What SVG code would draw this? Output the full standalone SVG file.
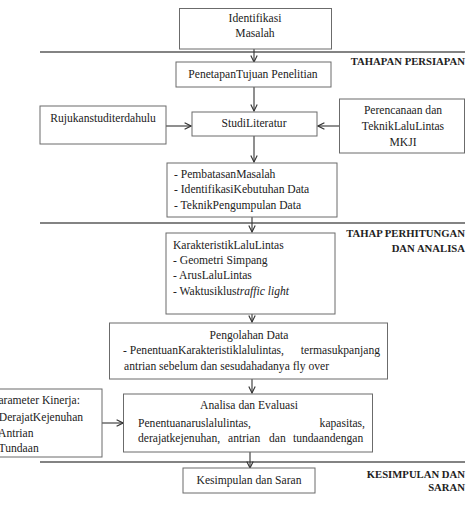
<svg xmlns="http://www.w3.org/2000/svg" width="470" height="517" viewBox="0 0 470 517">
<style>
.box{fill:#fff;stroke:#6b6b6b;stroke-width:1}
.sep{stroke:#5a5a5a;stroke-width:1.3;fill:none}
.con{stroke:#333;stroke-width:1.1;fill:none}
text{font-size:11.6px;fill:#222}
.c{text-anchor:middle}
.h{font-weight:bold;font-size:10.7px;text-anchor:end;fill:#222}
</style>
<defs>
<marker id="ar" viewBox="0 0 10 10" refX="9" refY="5" markerWidth="8" markerHeight="8" markerUnits="userSpaceOnUse" orient="auto">
<path d="M1,1 L9,5 L1,9" fill="none" stroke="#333" stroke-width="1.4"/>
</marker>
</defs>
<rect width="470" height="517" fill="#fff"/>
<g font-family="Liberation Serif, Times New Roman, DejaVu Serif, serif">
<g id="separators">
<line class="sep" x1="40" y1="52" x2="465" y2="52"/>
<line class="sep" x1="40" y1="223" x2="465" y2="223"/>
<line class="sep" x1="40" y1="462" x2="465" y2="462"/>
<text class="h" x="465" y="65">TAHAPAN PERSIAPAN</text>
<text class="h" x="465" y="237">TAHAP PERHITUNGAN</text>
<text class="h" x="465" y="252">DAN ANALISA</text>
<text class="h" x="465" y="478">KESIMPULAN DAN</text>
<text class="h" x="465" y="491">SARAN</text>
</g>
<g id="connectors">
<line class="con" x1="254" y1="49" x2="254" y2="62" marker-end="url(#ar)"/>
<line class="con" x1="254" y1="87" x2="254" y2="111" marker-end="url(#ar)"/>
<line class="con" x1="166" y1="126" x2="191" y2="126" marker-end="url(#ar)"/>
<line class="con" x1="339" y1="126" x2="318" y2="126" marker-end="url(#ar)"/>
<line class="con" x1="254" y1="136" x2="254" y2="162" marker-end="url(#ar)"/>
<line class="con" x1="252" y1="217" x2="252" y2="232" marker-end="url(#ar)"/>
<line class="con" x1="252" y1="314" x2="252" y2="322" marker-end="url(#ar)"/>
<line class="con" x1="252" y1="379" x2="252" y2="393" marker-end="url(#ar)"/>
<line class="con" x1="102" y1="423" x2="123" y2="423" marker-end="url(#ar)"/>
<line class="con" x1="250" y1="452" x2="250" y2="468" marker-end="url(#ar)"/>
</g>
<g id="n-identifikasi">
<rect class="box" x="179.5" y="8.5" width="152" height="40.5"/>
<text class="c" x="255" y="22">Identifikasi</text>
<text class="c" x="255" y="37">Masalah</text>
</g>
<g id="n-penetapan">
<rect class="box" x="176" y="62" width="155" height="25"/>
<text class="c" x="253" y="78">PenetapanTujuan Penelitian</text>
</g>
<g id="n-rujukan">
<rect class="box" x="40" y="106" width="126" height="38"/>
<text class="c" x="103" y="122">Rujukanstuditerdahulu</text>
</g>
<g id="n-studi">
<rect class="box" x="192" y="112" width="125" height="24"/>
<text class="c" x="254" y="127">StudiLiteratur</text>
</g>
<g id="n-perencanaan">
<rect class="box" x="339.5" y="99" width="125" height="54"/>
<text class="c" x="403" y="114">Perencanaan dan</text>
<text class="c" x="403" y="130">TeknikLaluLintas</text>
<text class="c" x="403" y="146">MKJI</text>
</g>
<g id="n-pembatasan">
<rect class="box" x="167" y="163" width="170" height="54"/>
<text x="174" y="178">- PembatasanMasalah</text>
<text x="174" y="193">- IdentifikasiKebutuhan Data</text>
<text x="174" y="209">- TeknikPengumpulan Data</text>
</g>
<g id="n-karakteristik">
<rect class="box" x="166" y="233" width="169" height="81"/>
<text x="173" y="249">KarakteristikLaluLintas</text>
<text x="173" y="264">- Geometri Simpang</text>
<text x="173" y="279">- ArusLaluLintas</text>
<text x="173" y="295">- Waktusiklus<tspan font-style="italic">traffic light</tspan></text>
</g>
<g id="n-pengolahan">
<rect class="box" x="109.5" y="323" width="278" height="56"/>
<text class="c" x="249" y="339">Pengolahan Data</text>
<text x="123" y="354">- PenentuanKarakteristiklalulintas,</text>
<text x="380" y="354" text-anchor="end">termasukpanjang</text>
<text x="124" y="370">antrian sebelum dan sesudahadanya fly over</text>
</g>
<g id="n-parameter">
<rect class="box" x="-5" y="389" width="107" height="68"/>
<text x="-8" y="404">Parameter Kinerja:</text>
<text x="-8" y="421">- DerajatKejenuhan</text>
<text x="-8" y="437">- Antrian</text>
<text x="-8" y="452">- Tundaan</text>
</g>
<g id="n-analisa">
<rect class="box" x="123.5" y="394" width="249" height="58"/>
<text class="c" x="249" y="409">Analisa dan Evaluasi</text>
<text x="138" y="427">Penentuanaruslalulintas,</text>
<text x="365" y="427" text-anchor="end">kapasitas,</text>
<text y="442"><tspan x="138">derajatkejenuhan,</tspan><tspan x="228">antrian</tspan><tspan x="269">dan</tspan><tspan x="293">tundaandengan</tspan></text>
</g>
<g id="n-kesimpulan">
<rect class="box" x="183" y="468" width="132" height="25"/>
<text class="c" x="249" y="484">Kesimpulan dan Saran</text>
</g>
</g>
</svg>
